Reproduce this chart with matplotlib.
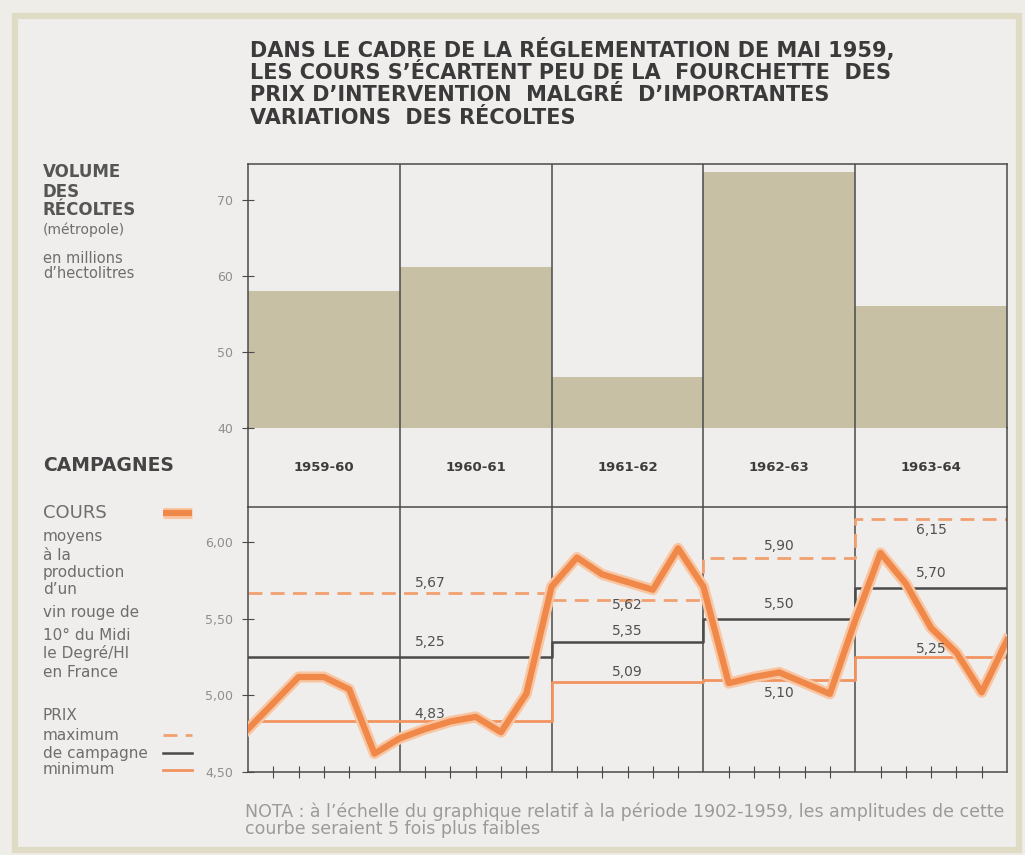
"""
Récoltes et cours du vin 1959-1964 : reprise du graphique
"""
import matplotlib
matplotlib.use("Agg")
import matplotlib.pyplot as plt
from matplotlib.lines import Line2D
from matplotlib.patches import Rectangle

# ── Données ────────────────────────────────────────────────────────────────────
campagnes = ["1959-60", "1960-61", "1961-62", "1962-63", "1963-64"]
recoltes  = [58.0, 61.2, 46.7, 73.6, 56.1]          # millions d'hl

# cours moyens, un point par graduation (6 par campagne)
cours = [4.78, 4.95, 5.12, 5.12, 5.04, 4.62, 4.72,
         4.78, 4.83, 4.86, 4.76, 5.01, 5.71,
         5.90, 5.79, 5.74, 5.69, 5.96, 5.71,
         5.08, 5.12, 5.15, 5.08, 5.01, 5.49,
         5.93, 5.73, 5.44, 5.28, 5.02, 5.36]

# prix d'intervention par période (bornes en graduations)
bornes    = [0, 12, 18, 24, 30]
prix_max  = [5.67, 5.62, 5.90, 6.15]
prix_camp = [5.25, 5.35, 5.50, 5.70]
prix_min  = [4.83, 5.09, 5.10, 5.25]

ticks_top = [40, 50, 60, 70]
ticks_bot = [4.50, 5.00, 5.50, 6.00]

# ── Style ──────────────────────────────────────────────────────────────────────
W, H = 1025, 855
BAR   = "#c7c0a5"
ORNG  = "#f0884a"
HALO  = "#f8c6a2"
DASH  = "#f2a070"
MINC  = "#f39460"
DARK  = "#4a4a4a"
GREY  = "#6e6e6e"
LGREY = "#8e8e8e"

plt.rcParams.update({"font.family": "DejaVu Sans"})

fig = plt.figure(figsize=(W/100, H/100), dpi=100, facecolor="#efede8")

def box(l, t, r, b):
    return [l/W, 1-b/H, (r-l)/W, (b-t)/H]

def T(x, y, s, **kw):
    kw.setdefault("va", "center")
    return fig.text(x/W, 1-y/H, s, **kw)

# cadre
fig.patches.append(Rectangle((15/W, 1-850/H), 1004/W, 834/H, transform=fig.transFigure,
                             facecolor="#f0eeec", edgecolor="#e0dbc4", lw=4.5, zorder=-10))

L, R = 248, 1007
ax1 = fig.add_axes(box(L, 164, R, 428))
axm = fig.add_axes(box(L, 428, R, 507))
ax2 = fig.add_axes(box(L, 507, R, 772))
for a in (ax1, axm, ax2):
    a.set_facecolor("none")
    for s in a.spines.values():
        s.set_color(DARK); s.set_linewidth(1.1)

# ── Récoltes ───────────────────────────────────────────────────────────────────
ax1.bar(range(len(recoltes)), recoltes, width=1.0, align="edge", bottom=0,
        color=BAR, edgecolor="none")
ax1.set_xlim(0, 5)
ax1.set_ylim(40, 74.7)
for i in range(1, 5):
    ax1.axvline(i, color=DARK, lw=1.1)
ax1.spines["bottom"].set_visible(False)
ax1.set_xticks([])
ax1.set_yticks(ticks_top)
ax1.set_yticklabels([str(t) for t in ticks_top], fontsize=9, color=LGREY)
ax1.tick_params(axis="y", direction="inout", length=9, color=DARK, pad=6)

# bande des campagnes
axm.set_xlim(0, 5); axm.set_ylim(0, 1)
axm.spines["top"].set_visible(False)
axm.spines["bottom"].set_visible(False)
axm.set_xticks([]); axm.set_yticks([])
for i in range(1, 5):
    axm.axvline(i, color=DARK, lw=1.1)
for i, c in enumerate(campagnes):
    axm.text(i+0.5, 0.5, c, ha="center", va="center", fontsize=9.5,
             fontweight="bold", color="#3c3c3c")

# ── Cours ──────────────────────────────────────────────────────────────────────
x = list(range(len(cours)))
ax2.set_xlim(0, 30)
ax2.set_ylim(4.5, 6.23)
for i in (6, 12, 18, 24):
    ax2.axvline(i, color=DARK, lw=1.1, zorder=1)

ax2.step(bornes, prix_max + prix_max[-1:], where="post", color=DASH,
         lw=2, dashes=(5, 3), zorder=2)
ax2.step(bornes, prix_camp + prix_camp[-1:], where="post", color=DARK, lw=1.8, zorder=2)
ax2.step(bornes, prix_min + prix_min[-1:], where="post", color=MINC, lw=2, zorder=2)

ax2.plot(x, cours, color=HALO, lw=8, solid_joinstyle="round", zorder=3)
ax2.plot(x, cours, color=ORNG, lw=4.5, solid_joinstyle="round", zorder=4)

# étiquettes des prix : centre de période et décalage vertical (pixels)
lab_x = [7.2, 15, 21, 27]
dy_max  = [10, -5, 12, -11]
dy_camp = [15, 11, 15, 15]
dy_min  = [7, 10, -13, 8]
for vals, dys in ((prix_max, dy_max), (prix_camp, dy_camp), (prix_min, dy_min)):
    for xx, v, dy in zip(lab_x, vals, dys):
        ax2.annotate(f"{v:.2f}".replace(".", ","), (xx, v), xytext=(0, dy),
                     textcoords="offset pixels", ha="center", va="center",
                     fontsize=10, color="#505050", zorder=5)

ax2.set_xticks([i for i in range(1, 30) if i % 6])
ax2.set_xticklabels([])
ax2.tick_params(axis="x", direction="inout", length=8, color=DARK)
ax2.set_yticks(ticks_bot)
ax2.set_yticklabels([f"{t:.2f}".replace(".", ",") for t in ticks_bot],
                    fontsize=9, color=LGREY)
ax2.tick_params(axis="y", direction="inout", length=9, color=DARK, pad=6)

# ── Textes ─────────────────────────────────────────────────────────────────────
titre = ["DANS LE CADRE DE LA RÉGLEMENTATION DE MAI 1959,",
         "LES COURS S’ÉCARTENT PEU DE LA  FOURCHETTE  DES",
         "PRIX D’INTERVENTION  MALGRÉ  D’IMPORTANTES",
         "VARIATIONS  DES RÉCOLTES"]
for k, s in enumerate(titre):
    T(250, 50 + k*22.7, s, fontsize=15, fontweight="bold", color="#3a3a3a")

for s, y in (("VOLUME", 172), ("DES", 192), ("RÉCOLTES", 210)):
    T(43, y, s, fontsize=12, fontweight="bold", color="#555555")
T(43, 230, "(métropole)", fontsize=10, color=GREY)
T(43, 258, "en millions", fontsize=10.5, color=GREY)
T(43, 274, "d’hectolitres", fontsize=10.5, color=GREY)

T(43, 465, "CAMPAGNES", fontsize=13.5, fontweight="bold", color="#444444")
T(43, 513, "COURS", fontsize=13, color=GREY)
for s, y in (("moyens", 537), ("à la", 555), ("production", 572), ("d’un", 590),
             ("vin rouge de", 613), ("10° du Midi", 635), ("le Degré/Hl", 653),
             ("en France", 672), ("PRIX", 715), ("maximum", 735),
             ("de campagne", 753), ("minimum", 770)):
    T(43, y, s, fontsize=11, color=GREY)

def swatch(y, **kw):
    fig.add_artist(Line2D([163/W, 192/W], [1-y/H, 1-y/H], transform=fig.transFigure, **kw))

swatch(513, color=HALO, lw=8, solid_capstyle="butt")
swatch(513, color=ORNG, lw=4.5, solid_capstyle="butt")
swatch(735, color=DASH, lw=2, dashes=(5, 3))
swatch(753, color=DARK, lw=1.8)
swatch(770, color=MINC, lw=2)

T(245, 812, "NOTA : à l’échelle du graphique relatif à la période 1902-1959, "
            "les amplitudes de cette", fontsize=12.5, color="#9a9a9a")
T(245, 829, "courbe seraient 5 fois plus faibles", fontsize=12.5, color="#9a9a9a")

fig.savefig("out.png", dpi=100, facecolor=fig.get_facecolor())
